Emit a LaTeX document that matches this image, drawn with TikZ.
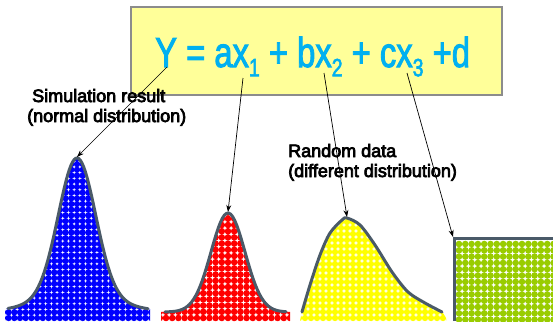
\documentclass[tikz,border=0pt]{standalone}
\usepackage{fontspec}
\setmainfont{Liberation Sans}
\newfontfamily\heavyfont[FakeBold=2.5]{Liberation Sans}
\newfontfamily\lblfont[FakeBold=4]{Liberation Sans}
\usepackage{graphicx}
\usetikzlibrary{positioning, arrows.meta}
\definecolor{fBox}{HTML}{FFFF99}
\definecolor{fEdge}{HTML}{8C8C8C}
\definecolor{fText}{HTML}{00B0F0}
\definecolor{cCurve}{HTML}{4A5A68}
\definecolor{dBlue}{HTML}{0000FF}
\definecolor{dRed}{HTML}{FF0000}
\definecolor{dYellow}{HTML}{FFFF00}
\definecolor{dGreen}{HTML}{99CC00}
\newcommand\subdig[1]{\raisebox{-0.22em}{\fontsize{25}{25}\selectfont #1}}
\tikzset{
  curve/.style={draw=cCurve, line width=3pt, line cap=round},
  lbl/.style={font=\lblfont\fontsize{18}{20}\selectfont, align=left, inner sep=0pt, anchor=base west},
  ptr/.style={-{Stealth[length=7pt,width=5pt]}, line width=0.7pt},
  eqbox/.style={draw=fEdge, fill=fBox, line width=1.5pt, minimum width=371pt, minimum height=88pt, inner sep=0pt},
}

\begin{document}
\begin{tikzpicture}[x=1pt, y=-1pt, >=Stealth,
    declare function={bell(\t)=312-154*(0.9*exp(-(\t-77)^2/(2*18.5^2))+0.1*exp(-(\t-77)^2/(2*40^2)));
                      peak(\t)=312-99*exp(-(\t-228)^2/(2*17^2));}]
  \useasboundingbox (0,0) rectangle (553,321);
  \fill[white] (0,0) rectangle (553,321);

  \node[eqbox] (eq) at (316.5,51) {};
  \node[anchor=base west, inner sep=0pt, text=fText, font=\heavyfont\fontsize{42}{42}\selectfont] (eqtxt) at (155,67)
    {\scalebox{0.78}[1]{Y = ax\subdig{1} + bx\subdig{2} + cx\subdig{3} +d}};

  \coordinate (yfoot) at (167,67);
  \coordinate (xonefoot) at (243,78);
  \coordinate (xtwofoot) at (324,73);
  \coordinate (xthreefoot) at (407,73);
  \coordinate (bluetop) at (77,157);
  \coordinate (redtop) at (228,212);
  \coordinate (yeltop) at (347,217);
  \coordinate (grncorner) at (453,237);

  % normal
  \begin{scope}
    \clip plot[domain=5:150, samples=90] (\x, {bell(\x)}) -- (150,321) -- (5,321) -- cycle;
    \foreach \i in {-13,...,13}
      \foreach \j in {0,...,29}
        \fill[dBlue] ({77+\i*5.7},{318-\j*5.7}) circle (3.2pt);
  \end{scope}
  \draw[curve] plot[domain=8:148, samples=90] (\x, {bell(\x)});

  \begin{scope}
    \clip plot[domain=161:290, samples=60] (\x, {peak(\x)}) -- (290,321) -- (161,321) -- cycle;
    \foreach \i in {-11,...,10}
      \foreach \j in {0,...,18}
        \fill[dRed] ({228+\i*6.2},{318-\j*6.2}) circle (3.3pt);
  \end{scope}
  \draw[curve] plot[domain=165:286, samples=60] (\x, {peak(\x)});

  \begin{scope}
    \clip plot[smooth] coordinates {(300,321) (302,312) (310,285) (320,255) (330,233) (342,220) (347,218) (360,225) (375,245) (392,272) (408,292) (425,303) (442,312) (447,321)} -- cycle;
    \foreach \i in {-8,...,17}
      \foreach \j in {0,...,17}
        \fill[dYellow] ({347+\i*6},{318-\j*6}) circle (3.2pt);
  \end{scope}
  \draw[curve] plot[smooth] coordinates {(302,312) (310,285) (320,255) (330,233) (342,220) (347,218) (360,225) (375,245) (392,272) (408,292) (425,303) (442,312)};

  \begin{scope}
    \clip (453,238) rectangle (553,321);
    \foreach \i in {0,...,16}
      \foreach \j in {0,...,14}
        \fill[dGreen] ({459+\i*6.3},{244+\j*6.3}) circle (3.3pt);
  \end{scope}
  \draw[curve, line cap=butt] (454,321) -- (454,238.5) -- (553,238.5);

  \node[lbl] (simlbl) at (27,122) {\hspace{5pt}Simulation result\\(normal distribution)};
  \node[lbl] (rndlbl) at (288,177) {Random data\\(different distribution)};

  \draw[ptr] (yfoot) -- (bluetop);
  \draw[ptr] (xonefoot) -- (redtop);
  \draw[ptr] (xtwofoot) -- (yeltop);
  \draw[ptr] (xthreefoot) -- (grncorner);
\end{tikzpicture}
\end{document}
